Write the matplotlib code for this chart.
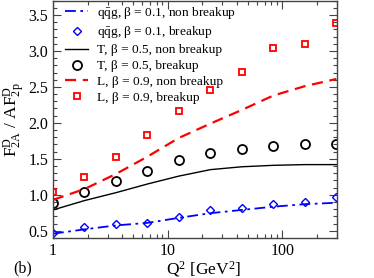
import matplotlib
matplotlib.use("Agg")
import matplotlib.pyplot as plt
from matplotlib.ticker import MultipleLocator, LogLocator, NullFormatter, FixedLocator, FixedFormatter

plt.rcParams['font.family'] = ['Liberation Serif', 'DejaVu Serif']
plt.rcParams['mathtext.fontset'] = 'custom'
plt.rcParams['mathtext.rm'] = 'Liberation Serif'
plt.rcParams['mathtext.it'] = 'Liberation Serif:italic'

q2 = [1.0, 1.88, 3.54, 6.65, 12.5, 23.6, 44.4, 83.6, 157.0, 296.0]

qqg_line = [0.46, 0.52, 0.575, 0.61, 0.68, 0.745, 0.79, 0.835, 0.87, 0.89]
qqg_pts = [0.464, 0.547, 0.598, 0.612, 0.688, 0.788, 0.82, 0.87, 0.894, 0.963]
T_line = [0.79, 0.92, 1.03, 1.15, 1.26, 1.35, 1.39, 1.41, 1.42, 1.42]
T_pts = [0.89, 1.04, 1.19, 1.33, 1.48, 1.58, 1.64, 1.675, 1.71, 1.71]
L_line = [0.93, 1.08, 1.29, 1.53, 1.79, 1.99, 2.18, 2.38, 2.51, 2.61]
L_pts = [1.04, 1.25, 1.52, 1.83, 2.16, 2.46, 2.71, 3.035, 3.09, 3.39]

labels = [r"$\mathrm{q\bar{q}g}$, β = 0.1, non breakup",
          r"$\mathrm{q\bar{q}g}$, β = 0.1, breakup",
          "T, β = 0.5, non breakup",
          "T, β = 0.5, breakup",
          "L, β = 0.9, non breakup",
          "L, β = 0.9, breakup"]

fig = plt.figure(figsize=(3.74, 2.78), dpi=100)
ax = fig.add_axes([53/374, 1 - 238/278, (337 - 53)/374, 238/278 - 0.002])

ax.plot(q2, qqg_line, color='#0000ff', lw=1.3, dashes=(6, 2.5, 1.5, 2.5), label=labels[0])
ax.plot(q2, qqg_pts, ls='none', marker='D', ms=4, mfc='none', mec='#0000ff', mew=1.0, label=labels[1])
ax.plot(q2, T_line, color='black', lw=1.0, label=labels[2])
ax.plot(q2, T_pts, ls='none', marker='o', ms=6.5, mfc='none', mec='black', mew=1.3, label=labels[3])
ax.plot(q2, L_line, color='#ff0000', lw=1.6, dashes=(5, 3), label=labels[4])
ax.plot(q2, L_pts, ls='none', marker='s', ms=4.5, mfc='none', mec='#ff0000', mew=1.3, label=labels[5])

ax.set_xscale('log')
ax.set_xlim(1, 300)
ax.set_ylim(0.4, 3.7)
ax.xaxis.set_major_locator(FixedLocator([1, 10, 100]))
ax.xaxis.set_major_formatter(FixedFormatter(['1', '10', '100']))
ax.xaxis.set_minor_locator(LogLocator(base=10, subs=range(2, 10)))
ax.xaxis.set_minor_formatter(NullFormatter())
ax.yaxis.set_major_locator(MultipleLocator(0.5))
ax.yaxis.set_minor_locator(MultipleLocator(0.1))
ax.yaxis.set_major_formatter(matplotlib.ticker.FormatStrFormatter('%.1f'))
ax.tick_params(which='both', direction='in', top=True, right=True, labelsize=11.5, width=0.8, colors='#444444', labelcolor='black')
ax.tick_params(which='major', length=6)
ax.tick_params(which='minor', length=3)
for s in ax.spines.values():
    s.set_linewidth(1.0)
    s.set_color('#444444')

ax.set_xlabel(r"Q$^2$ [GeV$^2$]", fontsize=12.5, labelpad=2)
ax.xaxis.set_label_coords(0.53, -0.088)
ax.set_ylabel(r"F$^{\mathrm{D}}_{\mathrm{2A}}$ / AF$^{\mathrm{D}}_{\mathrm{2p}}$", fontsize=12.5, labelpad=1)

leg = ax.legend(loc='upper left', frameon=False, fontsize=9.6, handlelength=1.7,
                handletextpad=0.7, labelspacing=0.27, borderaxespad=0.0,
                bbox_to_anchor=(0.025, 1.005))

fig.text(13/374, 1 - 268/278, "(b)", fontsize=11.5, va='center', ha='left')

fig.savefig("out.png", dpi=100)
